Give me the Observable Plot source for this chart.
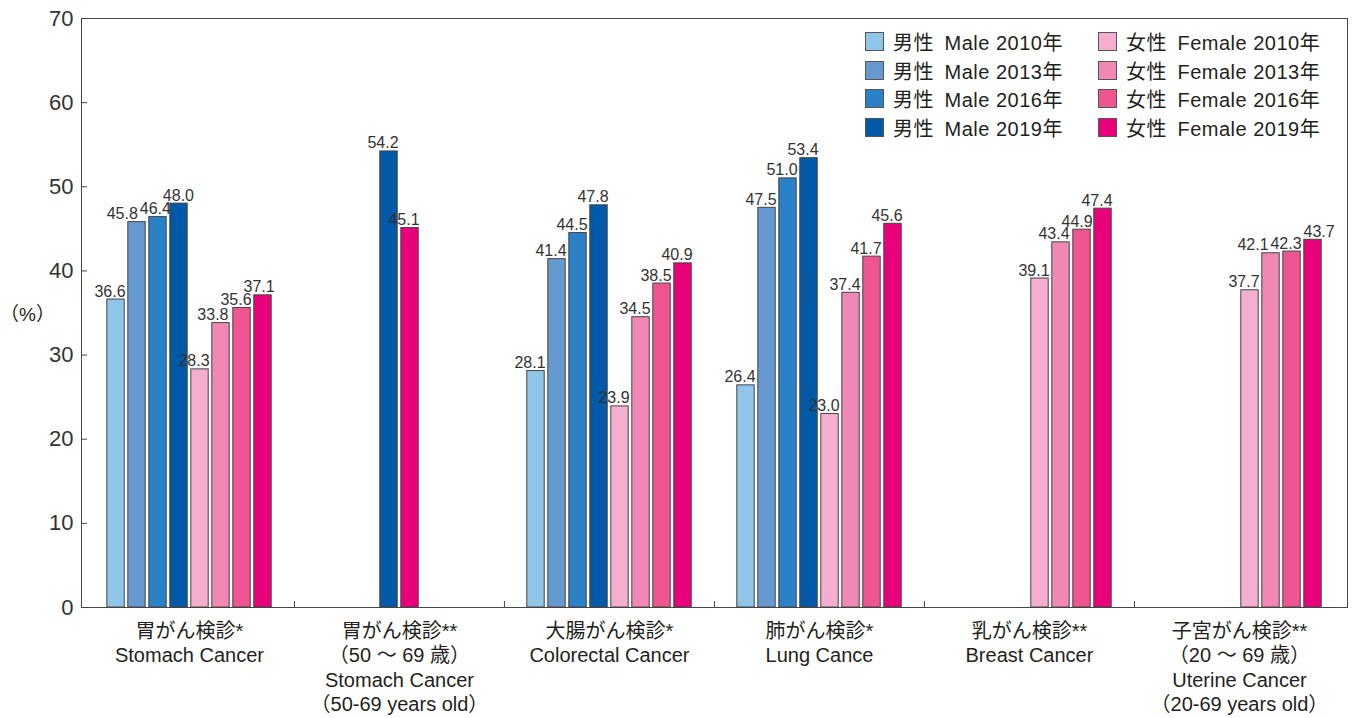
<!DOCTYPE html>
<html>
<head>
<meta charset="utf-8">
<script src="https://cdn.jsdelivr.net/npm/d3@7"></script>
<script src="https://cdn.jsdelivr.net/npm/@observablehq/plot@0.6"></script>
<style>
  html, body { margin: 0; padding: 0; background: #fff; }
  #wrap { position: relative; width: 1354px; height: 718px; font-family: "Liberation Sans", "Noto Sans CJK JP", sans-serif; color: #231f20; }
  #ylab { position: absolute; left: 0px; top: 299px; font-size: 19px; }
  #legend { position: absolute; left: 865px; top: 32px; display: grid; grid-template-columns: 233px 240px; row-gap: 9.5px; font-size: 20px; letter-spacing: 0.5px; }
  .item { display: flex; align-items: center; height: 19px; white-space: nowrap; }
  .sw { width: 17px; height: 17px; border: 1px solid #555; margin-right: 9px; flex: none; }
</style>
</head>
<body>
<div id="wrap">
  <div id="ylab">（%）</div>
  <div id="legend"></div>
</div>
<script>
const categories = [
  "胃がん検診*\nStomach Cancer",
  "胃がん検診**\n（50 ～ 69 歳）\nStomach Cancer\n（50-69 years old）",
  "大腸がん検診*\nColorectal Cancer",
  "肺がん検診*\nLung Cance",
  "乳がん検診**\nBreast Cancer",
  "子宮がん検診**\n（20 ～ 69 歳）\nUterine Cancer\n（20-69 years old）"
];
const series = [
  "男性 Male 2010年", "男性 Male 2013年", "男性 Male 2016年", "男性 Male 2019年",
  "女性 Female 2010年", "女性 Female 2013年", "女性 Female 2016年", "女性 Female 2019年"
];
const seriesColors = [
  "#90c5ea", "#6799d1", "#2a81c7", "#0259a7",
  "#f5aecf", "#f187b5", "#ef5590", "#e9007b"
];
const male2010   = [36.6, null, 28.1, 26.4, null, null];
const male2013   = [45.8, null, 41.4, 47.5, null, null];
const male2016   = [46.4, null, 44.5, 51.0, null, null];
const male2019   = [48.0, 54.2, 47.8, 53.4, null, null];
const female2010 = [28.3, null, 23.9, 23.0, 39.1, 37.7];
const female2013 = [33.8, null, 34.5, 37.4, 43.4, 42.1];
const female2016 = [35.6, null, 38.5, 41.7, 44.9, 42.3];
const female2019 = [37.1, 45.1, 40.9, 45.6, 47.4, 43.7];
const yTicks = [0, 10, 20, 30, 40, 50, 60, 70];

const seriesValues = [male2010, male2013, male2016, male2019, female2010, female2013, female2016, female2019];

// Layout constants
const W = 1354, H = 718, mL = 81, mR = 7, mT = 18, mB = 111;
const slotsPerGroup = 10; // 1 spacer + 8 bar slots + 1 spacer
const keys = [];
categories.forEach((c, gi) => { for (let s = 0; s < slotsPerGroup; s++) keys.push(gi + ":" + s); });
const bw = (W - mL - mR) / keys.length;
const pxPerUnit = (H - mT - mB) / 70;

// Rows: male bars keep their slot; female bars are packed from slot 4.
const rows = [];
categories.forEach((cat, ci) => {
  let femaleSlot = 4;
  seriesValues.forEach((vals, si) => {
    const v = vals[ci];
    if (v == null) return;
    const slot = si < 4 ? si : femaleSlot++;
    rows.push({group: ci, category: cat, series: series[si], slot, key: ci + ":" + (slot + 1), value: v});
  });
});

// Value-label placement: small left shift, and push apart labels that would collide.
const ctx = document.createElement("canvas").getContext("2d");
ctx.font = '16px "Liberation Sans"';
const labelShift = -6;
rows.forEach(r => {
  r.label = r.value.toFixed(1);
  r.w = ctx.measureText(r.label).width;
  r.pos = r.slot * bw + labelShift;
  r.ypx = r.value * pxPerUnit;
});
categories.forEach((c, gi) => {
  const items = rows.filter(r => r.group === gi).sort((a, b) => a.slot - b.slot);
  for (let it = 0; it < 60; it++) {
    for (let i = 0; i < items.length - 1; i++) {
      const a = items[i], b = items[i + 1];
      const dy = Math.abs(a.ypx - b.ypx);
      const full = (a.w + b.w) / 2 + 2;
      const need = dy < 12 ? full : dy < 16 ? 0.7 * full : 0;
      const gap = b.pos - a.pos;
      if (gap < need) { const d = (need - gap) / 2; a.pos -= d; b.pos += d; }
    }
  }
});
rows.forEach(r => { r.dx = r.pos - r.slot * bw; });

const lineColor = "#444";
const centerKeys = categories.map((c, gi) => gi + ":" + (slotsPerGroup / 2));
const boundaryKeys = categories.slice(1).map((c, gi) => (gi + 1) + ":0");

const chart = Plot.plot({
  width: W,
  height: H,
  marginLeft: mL,
  marginRight: mR,
  marginTop: mT,
  marginBottom: mB,
  style: {fontFamily: '"Liberation Sans", "Noto Sans CJK JP", sans-serif', color: "#231f20", background: "transparent", overflow: "visible"},
  x: {type: "band", domain: keys, paddingInner: 0, paddingOuter: 0},
  y: {domain: [0, 70]},
  color: {type: "ordinal", domain: series, range: seriesColors},
  marks: [
    Plot.barY(rows, {x: "key", y: "value", fill: "series", stroke: lineColor, strokeWidth: 1, insetLeft: 1.8, insetRight: 1.8}),
    ...rows.map(r => Plot.text([r], {x: "key", y: "value", text: "label", dx: r.dx, dy: -3, lineAnchor: "bottom", fontSize: 16, fill: "#333"})),
    Plot.frame({stroke: lineColor}),
    Plot.axisY({ticks: yTicks, tickSize: 0, tickPadding: 8, fontSize: 22, label: null, fill: "#333"}),
    Plot.axisY({ticks: yTicks, tickSize: 6, dx: 6, tickFormat: () => "", label: null, stroke: lineColor}),
    Plot.axisX({ticks: boundaryKeys, tickSize: 6, dy: -6, dx: -bw / 2, tickFormat: () => "", label: null, stroke: lineColor}),
    Plot.axisX({ticks: centerKeys, tickSize: 0, tickPadding: 13, dx: -bw / 2, tickFormat: k => categories[+k.split(":")[0]], fontSize: 20, lineHeight: 1.22, label: null, fill: "#231f20"})
  ]
});

const wrap = document.getElementById("wrap");
wrap.insertBefore(chart, wrap.firstChild);

const legend = document.getElementById("legend");
[0, 4, 1, 5, 2, 6, 3, 7].forEach(i => {
  const item = document.createElement("div");
  item.className = "item";
  const sw = document.createElement("span");
  sw.className = "sw";
  sw.style.background = seriesColors[i];
  const label = document.createElement("span");
  label.textContent = series[i].replace(" ", "\u2002");
  item.appendChild(sw);
  item.appendChild(label);
  legend.appendChild(item);
});
</script>
</body>
</html>
